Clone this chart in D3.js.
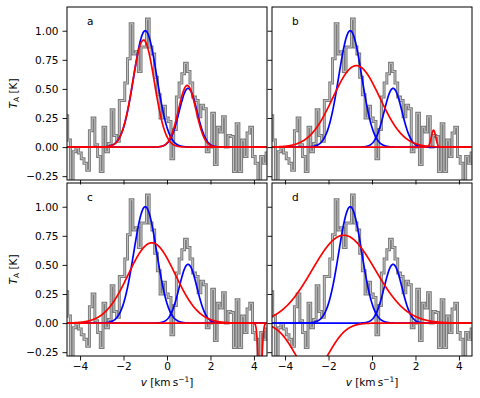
<!DOCTYPE html>
<html><head><meta charset="utf-8">
<script src="https://cdn.jsdelivr.net/npm/d3@7"></script>
<style>body{margin:0;background:#fff}svg{display:block}text{font-family:"DejaVu Sans",sans-serif}</style>
</head><body><svg id="c" width="480" height="398"></svg>
<script>
// ---- data ----
const specStart = -4.693, specStep = 0.125;
const specValues = [0.27,0.06,-0.35,-0.04,-0.01,-0.05,-0.10,-0.14,-0.20,0.14,0.25,0.02,-0.08,-0.21,0.17,-0.04,0.03,0.32,0.10,0.05,
 0.40,0.40,0.55,0.76,1.06,0.80,0.82,0.65,0.86,0.86,1.10,0.86,0.80,0.60,0.45,0.25,0.35,0.25,0.22,-0.10,
 0.15,0.43,0.55,0.63,0.72,0.65,0.55,0.43,0.40,0.26,0.36,0.33,-0.04,0.00,0.29,-0.15,0.17,0.13,0.26,0.00,
 0.10,0.09,-0.21,0.20,-0.21,0.06,-0.08,0.12,0.17,-0.08,-0.14,-0.30,-0.08,-0.14,-0.05];
const panelLetters = ["a","b","c","d"];
const blueAmp = [1.0, 0.505], blueCen = [-1.0, 0.97], blueSig = [0.53, 0.41];
const redAmp = [[0.92,0.53],[0.70,0.145],[0.69,-0.6],[0.755,-0.42]];
const redCen = [[-1.08,0.93],[-0.72,2.83],[-0.70,4.28],[-1.3,-2.77]];
const redSig = [[0.50,0.40],[1.08,0.10],[1.08,0.08],[1.45,0.8]];
const xTicks = [-4,-2,0,2,4];
const yTicks = [-0.25,0,0.25,0.5,0.75,1.0];
const xDomain = [-4.6, 4.6], yDomain = [-0.283, 1.204];

// ---- layout ----
const svg = d3.select("#c");
const cols = [[67,267],[272,472]], rows = [[7,180],[183,356]];
const fmtY = v => (v<0?"\u2212":"") + Math.abs(v).toFixed(2);
const fmtX = v => (v<0?"\u2212":"") + Math.abs(v);
const FS = 10.5;

panelLetters.forEach((letter,i)=>{
  const r = Math.floor(i/2), c = i%2;
  const x = d3.scaleLinear().domain(xDomain).range(cols[c]);
  const y = d3.scaleLinear().domain(yDomain).range([rows[r][1], rows[r][0]]);
  const g = svg.append("g");
  const cid = "clip"+i;
  svg.append("clipPath").attr("id",cid).append("rect")
    .attr("x",cols[c][0]).attr("y",rows[r][0]).attr("width",cols[c][1]-cols[c][0]).attr("height",rows[r][1]-rows[r][0]);
  const pg = g.append("g").attr("clip-path",`url(#${cid})`);
  // spectrum
  const pts = specValues.map((v,k)=>[specStart+k*specStep, v]);
  pts.push([specStart+specValues.length*specStep, specValues[specValues.length-1]]);
  const step = d3.line().x(d=>x(d[0])).y(d=>y(d[1])).curve(d3.curveStepAfter);
  pg.append("path").attr("d",step(pts)).attr("fill","none").attr("stroke","#7c7c7c").attr("stroke-width",3);
  pg.append("path").attr("d",step(pts)).attr("fill","none").attr("stroke","#c4c4c4").attr("stroke-width",1);
  // gaussians
  const vs = d3.range(0,801).map(k=>xDomain[0]-0.1+k*(xDomain[1]-xDomain[0]+0.2)/800);
  const line = d3.line().x(d=>x(d[0])).y(d=>y(d[1]));
  const gauss = (a,m,s)=>vs.map(v=>[v, a*Math.exp(-(v-m)*(v-m)/(2*s*s))]);
  blueAmp.forEach((a,j)=>{
    pg.append("path").attr("d",line(gauss(a,blueCen[j],blueSig[j]))).attr("fill","none").attr("stroke","#0000ff").attr("stroke-width",1.7);
  });
  redAmp[i].forEach((a,j)=>{
    pg.append("path").attr("d",line(gauss(a,redCen[i][j],redSig[i][j]))).attr("fill","none").attr("stroke","#ff0000").attr("stroke-width",1.7);
  });
  // axes
  const ax = g.append("g").attr("transform",`translate(0,${rows[r][1]})`)
    .call(d3.axisBottom(x).tickValues(xTicks).tickSize(4.5).tickPadding(2.5).tickFormat(r===1?fmtX:""));
  const ay = g.append("g").attr("transform",`translate(${cols[c][0]},0)`)
    .call(d3.axisLeft(y).tickValues(yTicks).tickSize(4.5).tickPadding(4).tickFormat(c===0?fmtY:""));
  [ax,ay].forEach(a=>{a.select(".domain").remove(); a.selectAll("text").attr("font-size",FS).attr("fill","#000").attr("font-family","DejaVu Sans");
    a.selectAll("line").attr("stroke","#000").attr("stroke-width",0.9);});
  g.append("rect").attr("x",cols[c][0]).attr("y",rows[r][0]).attr("width",cols[c][1]-cols[c][0]).attr("height",rows[r][1]-rows[r][0])
    .attr("fill","none").attr("stroke","#000").attr("stroke-width",1);
  g.append("text").attr("x",cols[c][0]+20).attr("y",rows[r][0]+18).attr("font-size",FS).text(letter);
  if(c===0){
    const t = svg.append("text").attr("transform",`translate(17,${(rows[r][0]+rows[r][1])/2}) rotate(-90)`).attr("text-anchor","middle").attr("font-size",FS);
    t.append("tspan").attr("font-style","italic").text("T");
    t.append("tspan").attr("font-size",7.5).attr("dy",2).text("A");
    t.append("tspan").attr("dy",-2).text(" [K]");
  }
  if(r===1){
    const t = svg.append("text").attr("x",(cols[c][0]+cols[c][1])/2).attr("y",386).attr("text-anchor","middle").attr("font-size",FS);
    t.append("tspan").attr("font-style","italic").text("v");
    t.append("tspan").text(" [km\u2009s");
    t.append("tspan").attr("font-size",7.5).attr("dy",-4).text("\u22121");
    t.append("tspan").attr("dy",4).text("]");
  }
});
</script></body></html>
